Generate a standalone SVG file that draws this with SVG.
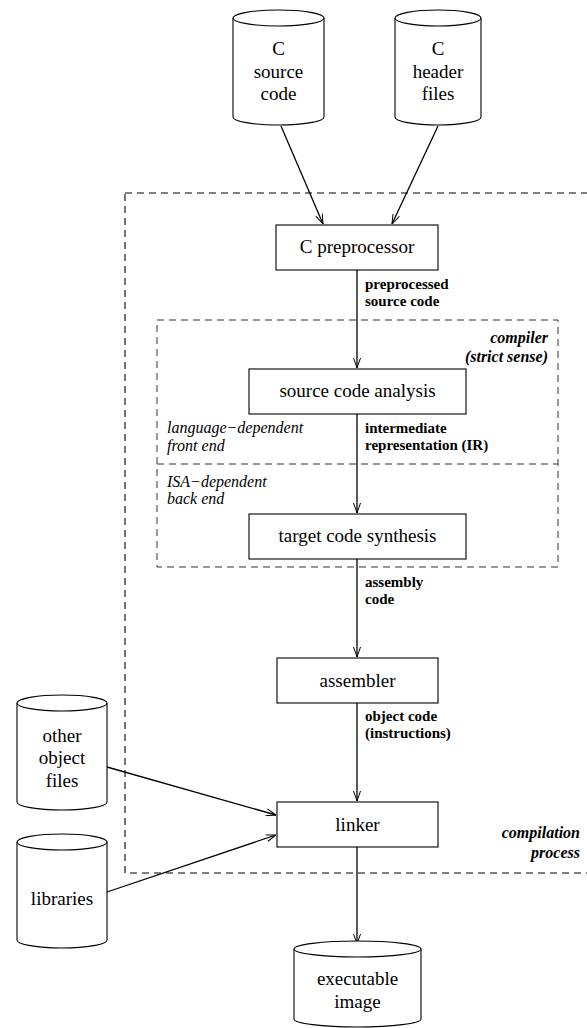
<svg xmlns="http://www.w3.org/2000/svg" width="587" height="1028" viewBox="0 0 587 1028">
<style>
.box{fill:#fff;stroke:#000;stroke-width:1.1}
.cyl{fill:#fff;stroke:#000;stroke-width:1.1}
text{font-family:'Liberation Serif','Times New Roman','DejaVu Serif',serif;fill:#000}
.t{font-size:19px;text-anchor:middle}
.lb{font-size:15px;font-weight:bold}
.li{font-size:16px;font-style:italic}
.lbi{font-size:16px;font-style:italic;font-weight:bold;text-anchor:end}
.dash{fill:none;stroke:#000;stroke-width:1.1;stroke-dasharray:7 5}
.dash2{fill:none;stroke:#333;stroke-width:1;stroke-dasharray:7 5}
.con{fill:none;stroke:#000;stroke-width:1.3;marker-end:url(#arr)}
</style>
<defs>
<marker id="arr" viewBox="0 0 10 8" refX="10" refY="4" markerWidth="10" markerHeight="8" markerUnits="userSpaceOnUse" orient="auto">
<path d="M0,0.5 L10,4 L0,7.5" fill="none" stroke="#000" stroke-width="1"/>
</marker>
</defs>
<rect width="587" height="1028" fill="#fff"/>

<g id="regions">
<rect class="dash" x="125" y="193" width="470" height="680"/>
<rect class="dash2" x="157" y="320" width="401" height="247"/>
<line class="dash2" x1="157" y1="464" x2="558" y2="464"/>
<text class="lbi" x="548" y="343">compiler</text>
<text class="lbi" x="548" y="362">(strict sense)</text>
<text class="li" x="167" y="433">language−dependent</text>
<text class="li" x="167" y="451">front end</text>
<text class="li" x="167" y="487">ISA−dependent</text>
<text class="li" x="167" y="504">back end</text>
<text class="lbi" x="580" y="838">compilation</text>
<text class="lbi" x="580" y="858">process</text>
</g>

<g id="connectors">
<line class="con" x1="281" y1="126" x2="323" y2="224"/>
<line class="con" x1="438" y1="126" x2="392" y2="224"/>
<line class="con" x1="357" y1="270" x2="357" y2="368"/>
<line class="con" x1="357" y1="414" x2="357" y2="513"/>
<line class="con" x1="357" y1="559" x2="357" y2="657"/>
<line class="con" x1="357" y1="703" x2="357" y2="801"/>
<line class="con" x1="107" y1="767" x2="276" y2="815"/>
<line class="con" x1="107" y1="892" x2="276" y2="835"/>
<line class="con" x1="357" y1="847" x2="357" y2="944"/>
<text class="lb" x="365" y="289">preprocessed</text>
<text class="lb" x="365" y="306">source code</text>
<text class="lb" x="365" y="433">intermediate</text>
<text class="lb" x="365" y="450">representation (IR)</text>
<text class="lb" x="365" y="587">assembly</text>
<text class="lb" x="365" y="604">code</text>
<text class="lb" x="365" y="721">object code</text>
<text class="lb" x="365" y="738">(instructions)</text>
</g>

<g id="c-source">
<path class="cyl" d="M233,18 L233,117 A45.5,8 0 0 0 324,117 L324,18 A45.5,8 0 0 0 233,18 Z"/>
<path class="cyl" d="M233,18 A45.5,8 0 0 0 324,18"/>
<text class="t" x="278.5" y="55">C</text>
<text class="t" x="278.5" y="78">source</text>
<text class="t" x="278.5" y="100">code</text>
</g>

<g id="c-header">
<path class="cyl" d="M395,18 L395,117 A43,8 0 0 0 481,117 L481,18 A43,8 0 0 0 395,18 Z"/>
<path class="cyl" d="M395,18 A43,8 0 0 0 481,18"/>
<text class="t" x="438" y="55">C</text>
<text class="t" x="438" y="78">header</text>
<text class="t" x="438" y="100">files</text>
</g>

<g id="preprocessor">
<rect class="box" x="276" y="225" width="162" height="45"/>
<text class="t" x="357" y="253">C preprocessor</text>
</g>

<g id="analysis">
<rect class="box" x="249" y="369" width="217" height="45"/>
<text class="t" x="357.5" y="397">source code analysis</text>
</g>

<g id="synthesis">
<rect class="box" x="249" y="514" width="217" height="45"/>
<text class="t" x="357.5" y="542">target code synthesis</text>
</g>

<g id="assembler">
<rect class="box" x="277" y="658" width="161" height="45"/>
<text class="t" x="357.5" y="687">assembler</text>
</g>

<g id="linker">
<rect class="box" x="277" y="802" width="161" height="45"/>
<text class="t" x="357.5" y="831">linker</text>
</g>

<g id="other-object-files">
<path class="cyl" d="M17,703 L17,802 A45,8 0 0 0 107,802 L107,703 A45,8 0 0 0 17,703 Z"/>
<path class="cyl" d="M17,703 A45,8 0 0 0 107,703"/>
<text class="t" x="62" y="742">other</text>
<text class="t" x="62" y="764">object</text>
<text class="t" x="62" y="787">files</text>
</g>

<g id="libraries">
<path class="cyl" d="M17,842 L17,940 A45,8 0 0 0 107,940 L107,842 A45,8 0 0 0 17,842 Z"/>
<path class="cyl" d="M17,842 A45,8 0 0 0 107,842"/>
<text class="t" x="62" y="905">libraries</text>
</g>

<g id="executable-image">
<path class="cyl" d="M294,949 L294,1019 A63.5,8 0 0 0 421,1019 L421,949 A63.5,8 0 0 0 294,949 Z"/>
<path class="cyl" d="M294,949 A63.5,8 0 0 0 421,949"/>
<text class="t" x="357.5" y="985">executable</text>
<text class="t" x="357.5" y="1008">image</text>
</g>
</svg>
